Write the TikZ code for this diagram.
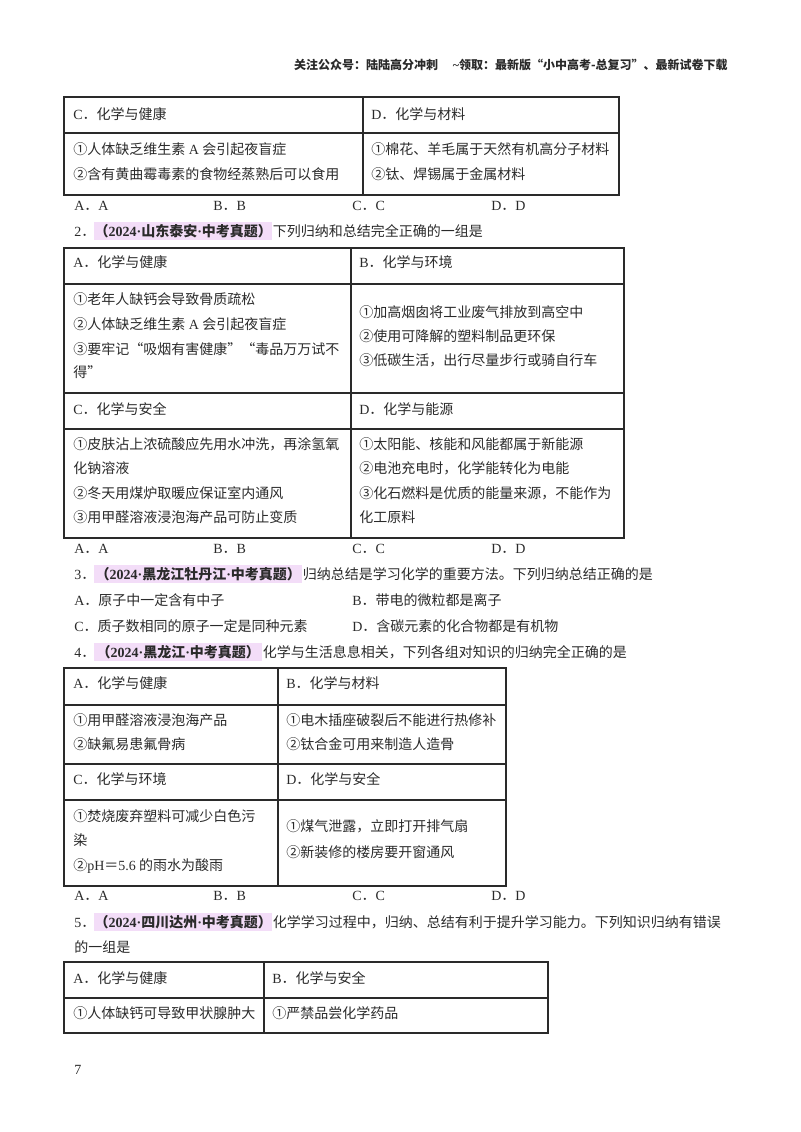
\documentclass[tikz,border=0pt]{standalone}
\usepackage{fontspec}
\setmainfont{Noto Sans CJK SC}
\newfontfamily\lat{Liberation Serif}
\usetikzlibrary{positioning}
\definecolor{inkgray}{HTML}{2A2A2A}
\definecolor{hilite}{HTML}{F3DDF8}
\tikzset{
  txt/.style={anchor=west, inner sep=0pt, text height=8.75pt, text depth=1.25pt, text=inkgray, font=\fontsize{10.5pt}{12pt}\selectfont},
  hl/.style={txt, fill=hilite, inner ysep=2pt, font=\fontsize{10.5pt}{12pt}\selectfont\bfseries},
  grid/.style={draw=inkgray, line width=0.8pt},
}
\newcommand{\lt}[1]{{\lat #1}}
\newcommand{\dt}{{\lat\textbf{·}}}
\begin{document}
\begin{tikzpicture}[x=0.75pt,y=-0.75pt]
\useasboundingbox (0,0) rectangle (800,1132);

\node [txt, anchor=east, font=\fontsize{9pt}{11pt}\selectfont\bfseries] (head) at (728,64) {关注公众号：陆陆高分冲刺\hspace{11pt}\lt{\~{}}领取：最新版“小中高考-总复习”、最新试卷下载};

% table 1
\draw [grid] (64,97) rectangle (619,195);
\draw [grid] (64,133) -- (619,133);
\draw [grid] (363,97) -- (363,195);
\node [txt] (ta) at (73,114) {\lt{C}．化学与健康};
\node [txt] (tb) at (371,114) {\lt{D}．化学与材料};
\node [txt] (ta1) at (73,149) {①人体缺乏维生素\lt{ A }会引起夜盲症};
\node [txt] (ta2) at (73,174) {②含有黄曲霉毒素的食物经蒸熟后可以食用};
\node [txt] (tb1) at (371,149) {①棉花、羊毛属于天然有机高分子材料};
\node [txt] (tb2) at (371,174) {②钛、焊锡属于金属材料};
\foreach \n/\x in {A/74,B/213,C/352,D/491}
  \node [txt] (one\n) at (\x,205) {\lt{\n}．\lt{\n}};

% question 2
\node [txt] (q2) at (74,231) {\lt{2}．};
\node [hl, minimum width=133.5pt] (q2h) at (94,231) {（\lt{\textbf{2024}}\dt 山东泰安\dt 中考真题）};
\node [txt, right=0pt of q2h] (q2t) {下列归纳和总结完全正确的一组是};

% table 2
\draw [grid] (64,248) rectangle (624,538);
\draw [grid] (64,284) -- (624,284);
\draw [grid] (64,393) -- (624,393);
\draw [grid] (64,429) -- (624,429);
\draw [grid] (351,248) -- (351,538);
\node [txt] (ra) at (73,262) {\lt{A}．化学与健康};
\node [txt] (rb) at (359,262) {\lt{B}．化学与环境};
\node [txt] (ra1) at (73,299) {①老年人缺钙会导致骨质疏松};
\node [txt] (ra2) at (73,324) {②人体缺乏维生素\lt{ A }会引起夜盲症};
\node [txt] (ra3) at (73,349) {③要牢记“吸烟有害健康”“毒品万万试不};
\node [txt] (ra4) at (73,372) {得”};
\node [txt] (rb1) at (359,312) {①加高烟囱将工业废气排放到高空中};
\node [txt] (rb2) at (359,336) {②使用可降解的塑料制品更环保};
\node [txt] (rb3) at (359,360) {③低碳生活，出行尽量步行或骑自行车};
\node [txt] (rc) at (73,409) {\lt{C}．化学与安全};
\node [txt] (rd) at (359,409) {\lt{D}．化学与能源};
\node [txt] (rc1) at (73,444) {①皮肤沾上浓硫酸应先用水冲洗，再涂氢氧};
\node [txt] (rc2) at (73,468) {化钠溶液};
\node [txt] (rc3) at (73,493) {②冬天用煤炉取暖应保证室内通风};
\node [txt] (rc4) at (73,517) {③用甲醛溶液浸泡海产品可防止变质};
\node [txt] (rd1) at (359,444) {①太阳能、核能和风能都属于新能源};
\node [txt] (rd2) at (359,468) {②电池充电时，化学能转化为电能};
\node [txt] (rd3) at (359,493) {③化石燃料是优质的能量来源，不能作为};
\node [txt] (rd4) at (359,517) {化工原料};
\foreach \n/\x in {A/74,B/213,C/352,D/491}
  \node [txt] (two\n) at (\x,548) {\lt{\n}．\lt{\n}};

% question 3
\node [txt] (q3) at (74,574) {\lt{3}．};
\node [hl, minimum width=156pt] (q3h) at (94,574) {（\lt{\textbf{2024}}\dt 黑龙江牡丹江\dt 中考真题）};
\node [txt, right=0pt of q3h] (q3t) {归纳总结是学习化学的重要方法。下列归纳总结正确的是};
\node [txt] (q3a) at (74,600) {\lt{A}．原子中一定含有中子};
\node [txt] (q3b) at (352,600) {\lt{B}．带电的微粒都是离子};
\node [txt] (q3c) at (74,626) {\lt{C}．质子数相同的原子一定是同种元素};
\node [txt] (q3d) at (352,626) {\lt{D}．含碳元素的化合物都是有机物};

% question 4
\node [txt] (q4) at (74,652) {\lt{4}．};
\node [hl, minimum width=126pt] (q4h) at (94,652) {（\lt{\textbf{2024}}\dt 黑龙江\dt 中考真题）};
\node [txt, right=0pt of q4h] (q4t) {化学与生活息息相关，下列各组对知识的归纳完全正确的是};

% table 3
\draw [grid] (64,668) rectangle (506,886);
\draw [grid] (64,705) -- (506,705);
\draw [grid] (64,764) -- (506,764);
\draw [grid] (64,800) -- (506,800);
\draw [grid] (278,668) -- (278,886);
\node [txt] (sa) at (73,683) {\lt{A}．化学与健康};
\node [txt] (sb) at (286,683) {\lt{B}．化学与材料};
\node [txt] (sa1) at (73,720) {①用甲醛溶液浸泡海产品};
\node [txt] (sa2) at (73,744) {②缺氟易患氟骨病};
\node [txt] (sb1) at (286,720) {①电木插座破裂后不能进行热修补};
\node [txt] (sb2) at (286,744) {②钛合金可用来制造人造骨};
\node [txt] (sc) at (73,779) {\lt{C}．化学与环境};
\node [txt] (sd) at (286,779) {\lt{D}．化学与安全};
\node [txt] (sc1) at (73,816) {①焚烧废弃塑料可减少白色污};
\node [txt] (sc2) at (73,840) {染};
\node [txt] (sc3) at (73,865) {②\lt{pH}＝\lt{5.6} 的雨水为酸雨};
\node [txt] (sd1) at (286,826) {①煤气泄露，立即打开排气扇};
\node [txt] (sd2) at (286,852) {②新装修的楼房要开窗通风};
\foreach \n/\x in {A/74,B/213,C/352,D/491}
  \node [txt] (thr\n) at (\x,895) {\lt{\n}．\lt{\n}};

% question 5
\node [txt] (q5) at (74,922) {\lt{5}．};
\node [hl, minimum width=133.5pt] (q5h) at (94,922) {（\lt{\textbf{2024}}\dt 四川达州\dt 中考真题）};
\node [txt, right=0pt of q5h] (q5t) {化学学习过程中，归纳、总结有利于提升学习能力。下列知识归纳有错误};
\node [txt] (q5u) at (74,947) {的一组是};

% table 4
\draw [grid] (64,962) rectangle (548,1033);
\draw [grid] (64,998) -- (548,998);
\draw [grid] (264,962) -- (264,1033);
\node [txt] (ua) at (73,978) {\lt{A}．化学与健康};
\node [txt] (ub) at (272,978) {\lt{B}．化学与安全};
\node [txt] (ua1) at (73,1013) {①人体缺钙可导致甲状腺肿大};
\node [txt] (ub1) at (272,1013) {①严禁品尝化学药品};

\node [txt] (page) at (74,1069) {\lt{7}};

\end{tikzpicture}
\end{document}
